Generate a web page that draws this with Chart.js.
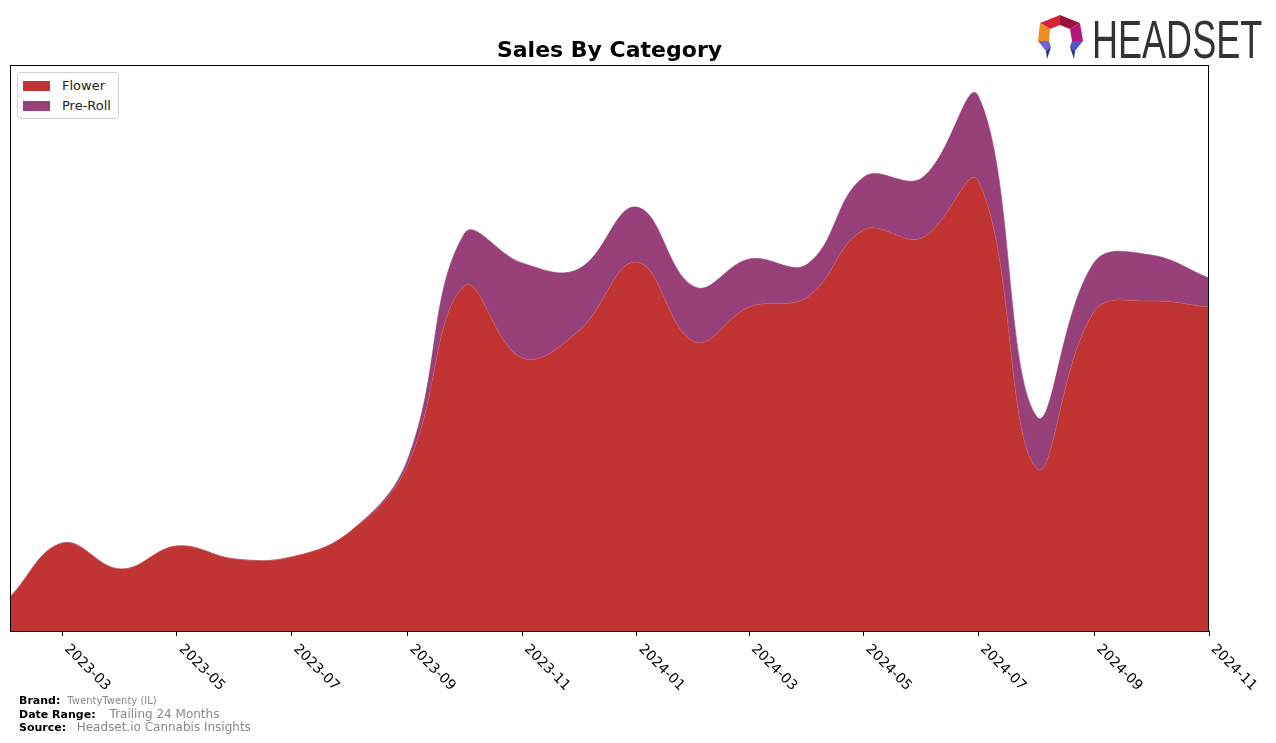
<!DOCTYPE html>
<html lang="en">
<head>
    <meta charset="UTF-8">
    <title>Sales By Category</title>
    <script src="https://cdn.jsdelivr.net/npm/chart.js"></script>
    <style>
        body { margin: 0; background: #fff; font-family: "DejaVu Sans", sans-serif; }
        #wrap { position: relative; width: 1276px; height: 743px; }
        #legend { position: absolute; left: 17px; top: 72px; width: 100px; height: 45px; border: 1px solid #d0d0d0; border-radius: 3px; background: #fff; font-size: 13px; color: #222; }
        #legend div { position: absolute; left: 5px; height: 14px; line-height: 14px; }
        #legend span.sw { display: inline-block; width: 27px; height: 10px; vertical-align: -1px; margin-right: 12px; }
        #footer { position: absolute; left: 19px; top: 694px; font-size: 11px; line-height: 13.5px; color: #888; }
        #footer b { color: #000; }
        #logo { position: absolute; left: 1036px; top: 14px; }
        #logoText { position: absolute; left: 1092px; top: 9px; font-family: "Liberation Sans Narrow", "Liberation Sans", sans-serif; font-size: 53px; color: #333; transform: scaleX(0.68); transform-origin: left top; }
    </style>
</head>
<body>
<div id="wrap">
    <canvas id="myChart" width="1276" height="743"></canvas>
    <div id="legend">
        <div style="top:6px"><span class="sw" style="background:#c03434"></span>Flower</div>
        <div style="top:26px"><span class="sw" style="background:#974079"></span>Pre-Roll</div>
    </div>
    <svg id="logo" width="50" height="48" viewBox="0 0 50 48">
        <polygon points="4,9 24,1 24,11 14,15" fill="#d3253a"/>
        <polygon points="24,1 44,9 34,15 24,11" fill="#9e1240"/>
        <polygon points="4,9 14,15 13,27 2,27" fill="#f08a24"/>
        <polygon points="44,9 47,27 36,27 34,15" fill="#b4167a"/>
        <polygon points="2,27 13,27 15,33 10,37" fill="#6a66d6"/>
        <polygon points="10,37 15,33 11,45" fill="#2c2a8c"/>
        <polygon points="36,27 47,27 39,37 34,33" fill="#5553c8"/>
        <polygon points="34,33 39,37 38,45" fill="#2c2a8c"/>
    </svg>
    <div id="logoText">HEADSET</div>
    <div id="footer">
        <div><b>Brand:</b>&nbsp; <span style="font-size:10px">TwentyTwenty (IL)</span></div>
        <div><b>Date Range:</b>&nbsp;&nbsp;&nbsp; <span style="font-size:12px">Trailing 24 Months</span></div>
        <div><b>Source:</b>&nbsp;&nbsp; <span style="font-size:12px">Headset.io Cannabis Insights</span></div>
    </div>
</div>

<script>
    // monthly data
    const months = ['2023-02','2023-03','2023-04','2023-05','2023-06','2023-07','2023-08','2023-09','2023-10','2023-11','2023-12',
                    '2024-01','2024-02','2024-03','2024-04','2024-05','2024-06','2024-07','2024-08','2024-09','2024-10','2024-11'];
    const flower  = [34, 88, 62, 85, 72, 74, 99, 166, 345, 273, 300, 369, 289, 324, 334, 401, 393, 450, 163, 320, 330, 324];
    const preRoll = [0, 0, 0, 0, 0, 0, 0, 6, 52, 95, 62, 55, 55, 48, 33, 53, 60, 85, 52, 49, 46, 29];
    const tickLabels = ['2023-03','2023-05','2023-07','2023-09','2023-11','2024-01','2024-03','2024-05','2024-07','2024-09','2024-11'];

    // days since first month
    function dayOf(m) {
        const [y, mo] = m.split('-').map(Number);
        return (Date.UTC(y, mo - 1, 1) - Date.UTC(2023, 1, 1)) / 86400000;
    }
    const xs = months.map(dayOf);
    const tickDays = tickLabels.map(dayOf);

    const frame = {
        id: 'frame',
        afterDraw(chart) {
            const ctx = chart.ctx, a = chart.chartArea, sx = chart.scales.x;
            ctx.save();
            ctx.strokeStyle = '#000';
            ctx.lineWidth = 1;
            ctx.strokeRect(Math.round(a.left) + 0.5, Math.round(a.top) + 0.5, Math.round(a.width) - 1, Math.round(a.height));
            ctx.fillStyle = '#000';
            ctx.font = '14px "DejaVu Sans"';
            ctx.textAlign = 'left';
            ctx.textBaseline = 'middle';
            tickDays.forEach((d, i) => {
                const x = sx.getPixelForValue(d);
                ctx.save();
                ctx.translate(x + 4, a.bottom + 16);
                ctx.rotate(Math.PI / 4);
                ctx.fillText(tickLabels[i], 0, 0);
                ctx.restore();
            });
            ctx.restore();
        }
    };

    const ctx = document.getElementById('myChart').getContext('2d');
    const myChart = new Chart(ctx, {
        type: 'line',
        data: {
            datasets: [{
                label: 'Flower',
                data: xs.map((x, i) => ({x: x, y: flower[i]})),
                backgroundColor: '#c03434',
                borderColor: '#c85a5a',
                borderWidth: 0.6,
                fill: 'origin',
                pointRadius: 0,
                tension: 0.4
            }, {
                label: 'Pre-Roll',
                data: xs.map((x, i) => ({x: x, y: preRoll[i]})),
                backgroundColor: '#974079',
                borderColor: '#974079',
                borderWidth: 0.6,
                fill: '-1',
                pointRadius: 0,
                tension: 0.4
            }]
        },
        options: {
            responsive: false,
            animation: false,
            layout: { padding: { left: 10, right: 67, top: 0, bottom: 107 } },
            plugins: {
                legend: { display: false },
                tooltip: { enabled: false },
                title: {
                    display: true,
                    text: 'Sales By Category',
                    fullSize: false,
                    color: '#000',
                    font: { family: 'DejaVu Sans', size: 22, weight: 'bold' },
                    padding: { top: 38, bottom: 0.6 }
                }
            },
            scales: {
                x: {
                    type: 'linear',
                    min: 0,
                    max: dayOf('2024-11'),
                    afterBuildTicks: s => { s.ticks = tickDays.map(v => ({value: v})); },
                    ticks: { display: false },
                    grid: { drawOnChartArea: false, color: '#000', tickLength: 5, tickWidth: 1 },
                    border: { display: false }
                },
                y: {
                    display: false,
                    stacked: true,
                    min: 0,
                    max: 566
                }
            }
        },
        plugins: [frame]
    });
</script>
</body>
</html>
